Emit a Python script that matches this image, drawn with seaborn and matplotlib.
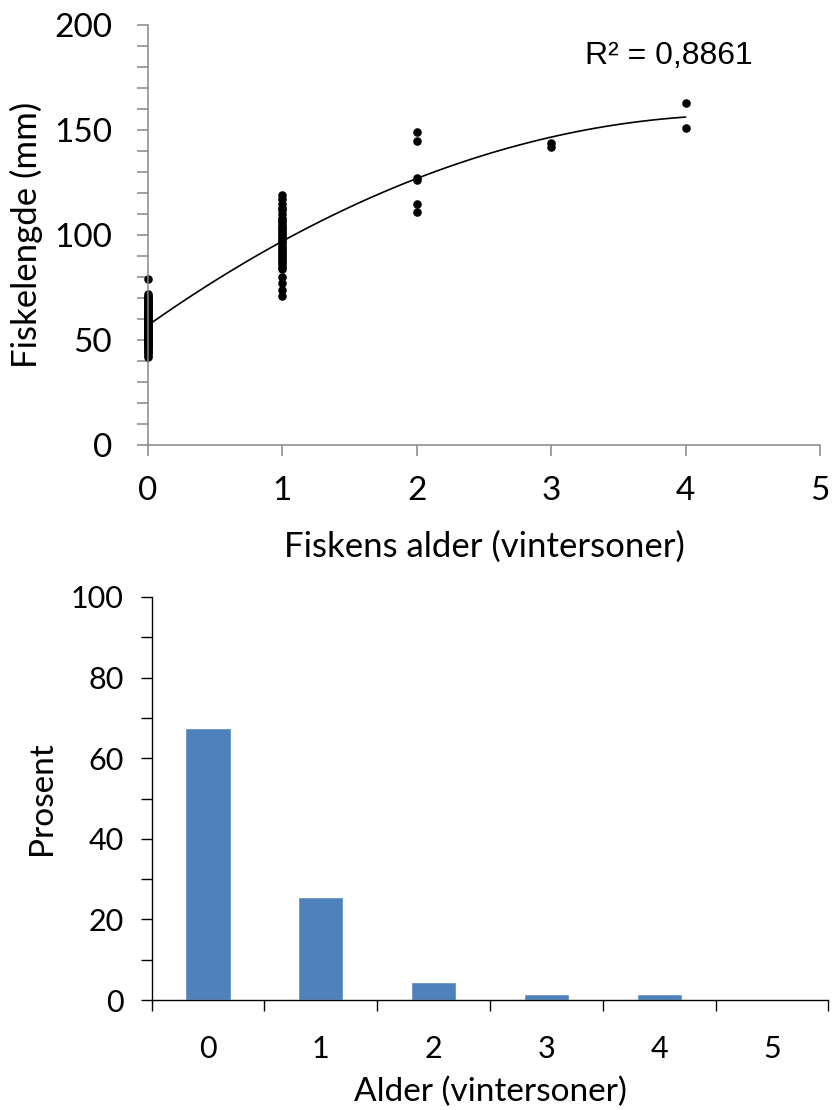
import numpy as np
import pandas as pd
import matplotlib
matplotlib.use("Agg")
import matplotlib.pyplot as plt
from matplotlib.ticker import MultipleLocator, FixedLocator
import seaborn as sns

# Fish length (mm) per age group (winter zones)
length_age0 = [42, 43, 44, 45, 45, 46, 46, 47, 47, 48, 48, 48, 49, 49, 49, 50, 50, 50,
               50, 51, 51, 51, 51, 52, 52, 52, 52, 53, 53, 53, 53, 54, 54, 54, 54, 55,
               55, 55, 55, 56, 56, 56, 56, 57, 57, 57, 57, 58, 58, 58, 58, 59, 59, 59,
               60, 60, 60, 60, 61, 61, 61, 62, 62, 62, 63, 63, 63, 64, 64, 64, 65, 65,
               65, 66, 66, 67, 67, 68, 68, 69, 69, 70, 70, 71, 72, 79]
length_age1 = [71, 74, 77, 80, 84, 85, 86, 87, 88, 89, 90, 91, 92, 93, 94, 95, 96, 97,
               98, 99, 100, 101, 102, 103, 104, 105, 106, 107, 108, 110, 112, 113, 115,
               117, 119]
length_age2 = [111, 115, 126, 127, 145, 149]
length_age3 = [142, 144]
length_age4 = [151, 163]
r2_label = "R\u00b2 = 0,8861"

# Age distribution (percent of catch)
age_classes = ["0", "1", "2", "3", "4", "5"]
age_percent = [67.4, 25.5, 4.4, 1.4, 1.4, 0.0]

groups = [length_age0, length_age1, length_age2, length_age3, length_age4]
fish = pd.DataFrame({
    "alder": np.concatenate([[a] * len(g) for a, g in enumerate(groups)]).astype(float),
    "lengde": np.concatenate(groups).astype(float),
})
dist = pd.DataFrame({"alder": age_classes, "prosent": age_percent})

sns.set_theme(style="ticks")
plt.rcParams["font.family"] = ["Lato", "DejaVu Sans"]
plt.rcParams["text.color"] = "black"
plt.rcParams["axes.labelcolor"] = "black"

W, H = 832, 1110
fig = plt.figure(figsize=(W / 100, H / 100), dpi=100)

# ---------- length vs age ----------
ax1 = fig.add_axes([148 / W, 1 - 445 / H, (820 - 148) / W, 420 / H])
grey = "#868686"
sns.regplot(data=fish, x="alder", y="lengde", order=2, ci=None, ax=ax1,
            scatter_kws=dict(s=38, color="black", linewidths=0, alpha=1),
            line_kws=dict(color="black", lw=1.2))
ax1.set_xlim(0, 5)
ax1.set_ylim(0, 200)
ax1.xaxis.set_major_locator(MultipleLocator(1))
ax1.yaxis.set_major_locator(MultipleLocator(50))
ax1.yaxis.set_minor_locator(MultipleLocator(10))
for s in ["top", "right"]:
    ax1.spines[s].set_visible(False)
for s in ["left", "bottom"]:
    ax1.spines[s].set_color(grey)
    ax1.spines[s].set_linewidth(1.1)
    ax1.spines[s].set_clip_on(False)
ax1.tick_params(axis="both", which="both", direction="out", color=grey, width=1.1,
                length=8, labelsize=24, labelcolor="black", bottom=True, left=True)
ax1.tick_params(axis="x", which="minor", bottom=False)
ax1.tick_params(axis="y", which="both", pad=18)
ax1.tick_params(axis="x", which="major", pad=14)
ax1.set_xlabel("Fiskens alder (vintersoner)", fontsize=25, labelpad=18)
ax1.set_ylabel("Fiskelengde (mm)", fontsize=25, labelpad=8)
for c in ax1.collections:
    c.set_clip_on(False)
ax1.text(0.65, 0.925, r2_label, transform=ax1.transAxes, fontsize=23,
         family="Liberation Sans", ha="left", va="center")

# ---------- age distribution ----------
ax2 = fig.add_axes([151.6 / W, 1 - 1000 / H, 676.8 / W, 403 / H])
sns.barplot(data=dist, x="alder", y="prosent", color="#4F81BD", width=0.4,
            saturation=1, ax=ax2)
ax2.set_xlim(-0.5, 5.5)
ax2.set_ylim(0, 100)
ax2.yaxis.set_major_locator(MultipleLocator(20))
ax2.yaxis.set_minor_locator(MultipleLocator(10))
ax2.xaxis.set_minor_locator(FixedLocator(np.arange(-0.5, 6, 1)))
for s in ["top", "right"]:
    ax2.spines[s].set_visible(False)
for s in ["left", "bottom"]:
    ax2.spines[s].set_color("black")
    ax2.spines[s].set_linewidth(1.0)
ax2.tick_params(axis="y", which="both", direction="out", length=8, width=1.0,
                color="black", labelsize=22, labelcolor="black", pad=12, left=True)
ax2.tick_params(axis="x", which="major", length=0, labelsize=22, labelcolor="black",
                pad=25)
ax2.tick_params(axis="x", which="minor", direction="out", length=8, width=1.0,
                color="black", bottom=True)
ax2.set_xlabel("Alder (vintersoner)", fontsize=24, labelpad=10)
ax2.set_ylabel("Prosent", fontsize=24, labelpad=10)

fig.savefig("out.png", dpi=100)
